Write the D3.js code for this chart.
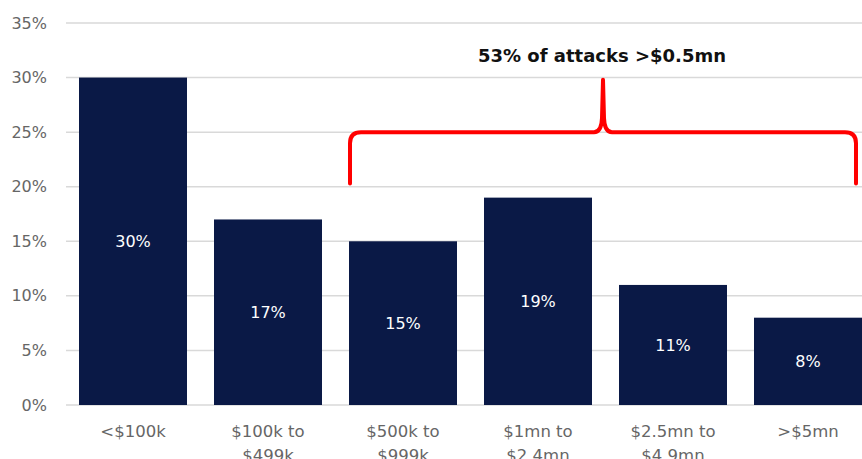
<!DOCTYPE html>
<html>
<head>
<meta charset="utf-8">
<script src="https://cdn.jsdelivr.net/npm/d3@7"></script>
<style>
  html, body { margin: 0; padding: 0; background: #fff; overflow: hidden; }
  svg { display: block; }
</style>
</head>
<body>
<svg id="chart" width="862" height="459"></svg>
<script>
// Share of attacks by loss size
const categories = ["<$100k", "$100k to\n$499k", "$500k to\n$999k", "$1mn to\n$2.4mn", "$2.5mn to\n$4.9mn", ">$5mn"];
const values = [30, 17, 15, 19, 11, 8];
const yTicks = [0, 5, 10, 15, 20, 25, 30, 35];
const annotation = "53% of attacks >$0.5mn";
// brace covers these categories
const braceFrom = 2, braceTo = 5;

const W = 862, H = 459;
const font = "'DejaVu Sans', sans-serif";
const svg = d3.select("#chart");

const x = d3.scaleBand()
  .domain(categories)
  .range([65.5, 875.5])
  .paddingInner(0.2)
  .paddingOuter(0.1);

const y = d3.scaleLinear().domain([0, 35]).range([405, 23]);

// gridlines
svg.append("g")
  .selectAll("line")
  .data(yTicks)
  .join("line")
  .attr("x1", 66).attr("x2", W)
  .attr("y1", d => y(d)).attr("y2", d => y(d))
  .attr("stroke", "#d9d9d9")
  .attr("stroke-width", 1.5);

// y axis labels
const yAxis = svg.append("g")
  .attr("transform", "translate(56,0)")
  .call(d3.axisLeft(y).tickValues(yTicks).tickFormat(d => d + "%").tickSize(0).tickPadding(9));
yAxis.select(".domain").remove();
yAxis.selectAll("text")
  .attr("font-family", font)
  .attr("font-size", 16)
  .attr("fill", "#666666");

// bars
svg.append("g")
  .selectAll("rect")
  .data(values)
  .join("rect")
  .attr("x", (d, i) => x(categories[i]))
  .attr("width", x.bandwidth())
  .attr("y", d => y(d))
  .attr("height", d => y(0) - y(d))
  .attr("fill", "#0a1946");

// value labels
svg.append("g")
  .selectAll("text")
  .data(values)
  .join("text")
  .attr("x", (d, i) => x(categories[i]) + x.bandwidth() / 2)
  .attr("y", d => (y(d) + y(0)) / 2)
  .attr("dy", "0.35em")
  .attr("text-anchor", "middle")
  .attr("font-family", font)
  .attr("font-size", 16)
  .attr("fill", "#ffffff")
  .text(d => d + "%");

// category labels
const xAxis = svg.append("g")
  .attr("transform", `translate(0,${y(0)})`)
  .call(d3.axisBottom(x).tickSize(0).tickPadding(0).tickFormat(""));
xAxis.select(".domain").remove();
xAxis.selectAll(".tick").each(function (d) {
  const t = d3.select(this).append("text")
    .attr("text-anchor", "middle")
    .attr("font-family", font)
    .attr("font-size", 16.5)
    .attr("fill", "#666666");
  d.split("\n").forEach((line, i) => {
    t.append("tspan").attr("x", 0).attr("y", 32 + i * 24).text(line);
  });
});

// brace over the larger-loss categories
const bx0 = x(categories[braceFrom]) + 1;
const bx1 = x(categories[braceTo]) + x.bandwidth() - 6;
const bmid = (bx0 + bx1) / 2;
const yBot = y(20.3), yBar = y(25), yTip = y(29.8);
const r = 11;
const brace = d3.path();
brace.moveTo(bx0, yBot);
brace.lineTo(bx0, yBar + r);
brace.quadraticCurveTo(bx0, yBar, bx0 + r, yBar);
brace.lineTo(bmid - 9, yBar);
brace.quadraticCurveTo(bmid - 1.5, yBar, bmid - 1, yBar - 14);
brace.lineTo(bmid, yTip);
brace.moveTo(bmid, yTip);
brace.lineTo(bmid + 1, yBar - 14);
brace.quadraticCurveTo(bmid + 1.5, yBar, bmid + 9, yBar);
brace.lineTo(bx1 - r, yBar);
brace.quadraticCurveTo(bx1, yBar, bx1, yBar + r);
brace.lineTo(bx1, yBot);
svg.append("path")
  .attr("d", brace.toString())
  .attr("fill", "none")
  .attr("stroke", "#ff0000")
  .attr("stroke-width", 4)
  .attr("stroke-linecap", "round")
  .attr("stroke-linejoin", "round");

// annotation text
svg.append("text")
  .attr("x", bmid - 1)
  .attr("y", 62)
  .attr("text-anchor", "middle")
  .attr("font-family", font)
  .attr("font-size", 18)
  .attr("font-weight", "bold")
  .attr("fill", "#111111")
  .text(annotation);
</script>
</body>
</html>
